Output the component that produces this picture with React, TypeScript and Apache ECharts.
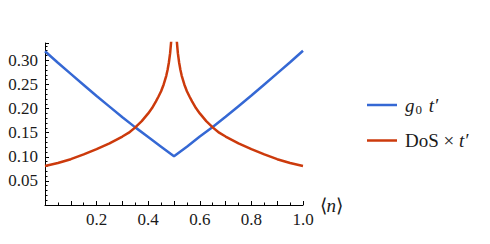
import React, { useEffect, useRef } from 'react';
import * as echarts from 'echarts';

const g0N = [0, 0.05, 0.1, 0.15, 0.2, 0.25, 0.3, 0.35, 0.4, 0.45, 0.5, 0.55, 0.6, 0.65, 0.7, 0.75, 0.8, 0.85, 0.9, 0.95, 1.0];
const g0Values = [0.319, 0.295, 0.272, 0.249, 0.226, 0.204, 0.182, 0.161, 0.141, 0.121, 0.101, 0.121, 0.142, 0.162, 0.183, 0.205, 0.227, 0.25, 0.273, 0.296, 0.32];

const dosN = [0, 0.05, 0.1, 0.15, 0.2, 0.25, 0.3, 0.325, 0.35, 0.375, 0.4, 0.415, 0.43, 0.44, 0.45, 0.46, 0.47, 0.475, 0.48, 0.485, 0.49, 0.495,
  0.505, 0.51, 0.515, 0.52, 0.525, 0.53, 0.54, 0.55, 0.56, 0.57, 0.585, 0.6, 0.625, 0.65, 0.675, 0.7, 0.75, 0.8, 0.85, 0.9, 0.95, 1.0];
const dosValues = [0.081, 0.087, 0.095, 0.105, 0.116, 0.128, 0.142, 0.15, 0.161, 0.174, 0.19, 0.201, 0.215, 0.225, 0.236, 0.25, 0.268, 0.28, 0.295, 0.315, 0.345, 0.39,
  0.39, 0.345, 0.315, 0.295, 0.28, 0.268, 0.25, 0.236, 0.225, 0.215, 0.201, 0.19, 0.174, 0.161, 0.15, 0.142, 0.128, 0.116, 0.105, 0.095, 0.087, 0.081];

const xTickLabels = ['0.2', '0.4', '0.6', '0.8', '1.0'];
const yTickLabels = ['0.05', '0.10', '0.15', '0.20', '0.25', '0.30'];

const seriesNames = ['g₀ t′', 'DoS × t′'];
const FONT = 'Liberation Serif';
const TEXT = '#1a1a1a';

export default function App() {
  const ref = useRef<HTMLDivElement>(null);
  useEffect(() => {
    if (!ref.current) return;
    const chart = echarts.init(ref.current, undefined, { renderer: 'svg' });
    const fmtX = (v: number) => {
      const s = v.toFixed(1);
      return xTickLabels.includes(s) ? s : '';
    };
    const fmtY = (v: number) => {
      const s = v.toFixed(2);
      return yTickLabels.includes(s) ? s : '';
    };
    chart.setOption({
      animation: false,
      backgroundColor: '#ffffff',
      grid: { left: 45, right: 187, top: 43, bottom: 39 },
      legend: {
        orient: 'vertical',
        left: 362,
        top: 89,
        icon: 'rect',
        itemWidth: 30,
        itemHeight: 2.5,
        itemGap: 15,
        data: seriesNames,
        formatter: (name: string) =>
          name === seriesNames[0] ? '{i|g}{s|0}{i| t′}' : '{r|DoS × }{i|t′}',
        textStyle: {
          fontFamily: FONT,
          fontSize: 19,
          color: TEXT,
          padding: [0, 0, 0, 3],
          rich: {
            i: { fontFamily: FONT, fontStyle: 'italic', fontSize: 19, color: TEXT, lineHeight: 22 },
            r: { fontFamily: FONT, fontSize: 19, color: TEXT, lineHeight: 22 },
            s: { fontFamily: FONT, fontSize: 13, color: TEXT, lineHeight: 22, padding: [9, 2, 0, 1] },
          },
        },
      },
      xAxis: {
        type: 'value',
        min: 0,
        max: 1,
        interval: 0.1,
        name: '{a|⟨}{b|n}{a|⟩}',
        nameLocation: 'end',
        nameGap: 14,
        nameTextStyle: {
          rich: {
            a: { fontFamily: FONT, fontSize: 19, color: TEXT },
            b: { fontFamily: FONT, fontSize: 19, fontStyle: 'italic', color: TEXT },
          },
        },
        axisLine: { show: true, onZero: false, lineStyle: { color: '#000', width: 1 } },
        axisTick: { show: true, inside: true, length: 4, lineStyle: { color: '#000' } },
        minorTick: { show: true, splitNumber: 2, length: 2.5, lineStyle: { color: '#000' } },
        splitLine: { show: false },
        axisLabel: { formatter: fmtX, fontFamily: FONT, fontSize: 17, color: TEXT, margin: 6 },
      },
      yAxis: {
        type: 'value',
        min: 0,
        max: 0.336,
        interval: 0.05,
        axisLine: { show: true, onZero: false, lineStyle: { color: '#000', width: 1 } },
        axisTick: { show: true, inside: true, length: 4, lineStyle: { color: '#000' } },
        minorTick: { show: true, splitNumber: 5, length: 2.5, lineStyle: { color: '#000' } },
        splitLine: { show: false },
        axisLabel: { formatter: fmtY, fontFamily: FONT, fontSize: 17, color: TEXT, margin: 7, showMaxLabel: false },
      },
      series: [
        {
          name: seriesNames[0],
          type: 'line',
          showSymbol: false,
          symbol: 'none',
          clip: true,
          data: g0N.map((n, i) => [n, g0Values[i]]),
          lineStyle: { color: '#3568d4', width: 2.5 },
          itemStyle: { color: '#3568d4' },
        },
        {
          name: seriesNames[1],
          type: 'line',
          showSymbol: false,
          symbol: 'none',
          clip: true,
          data: dosN.map((n, i) => [n, dosValues[i]]),
          lineStyle: { color: '#cc3a0c', width: 2.5 },
          itemStyle: { color: '#cc3a0c' },
        },
      ],
    });
    return () => chart.dispose();
  }, []);
  return <div ref={ref} style={{ width: 490, height: 244, position: 'absolute', left: 0, top: 0 }} />;
}
